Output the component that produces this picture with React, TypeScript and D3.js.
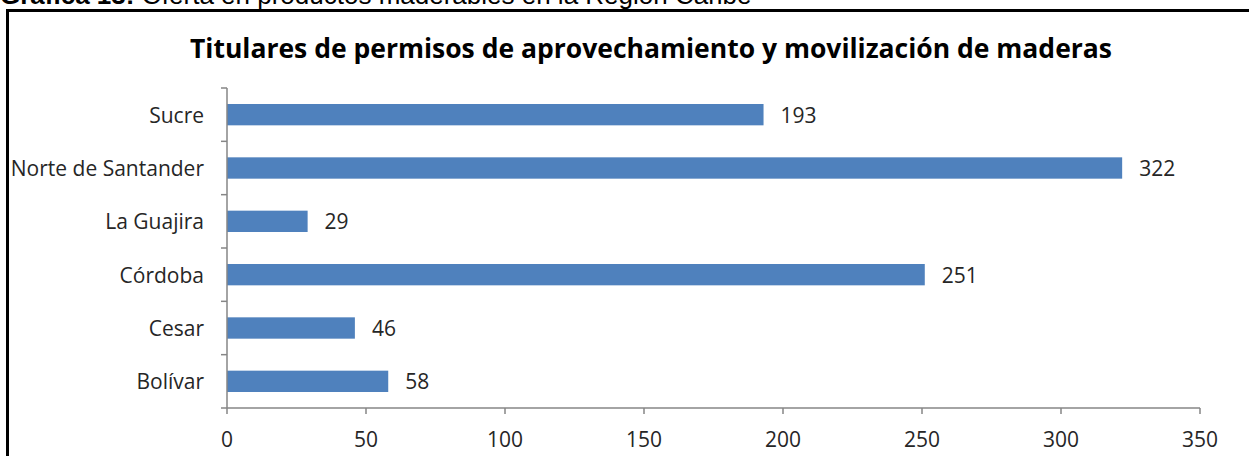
import React from "react";
import * as d3 from "d3";

const categories = ["Sucre", "Norte de Santander", "La Guajira", "Córdoba", "Cesar", "Bolívar"];
const values = [193, 322, 29, 251, 46, 58];
const xTicks = [0, 50, 100, 150, 200, 250, 300, 350];
const titleText = "Titulares de permisos de aprovechamiento y movilización de maderas";
const captionBold = "Gráfica 13:";
const captionRest = " Oferta en productos maderables en la Región Caribe";

const W = 1249;
const H = 456;
const left = 227;
const right = 1200;
const top = 88;
const bottom = 408;

export default function App() {
  const x = d3.scaleLinear().domain([0, 350]).range([left, right]);
  const y = d3
    .scaleBand<string>()
    .domain(categories)
    .range([top, bottom])
    .paddingInner(0.6)
    .paddingOuter(0.3);
  const bounds = d3.range(categories.length + 1).map((i) => top + i * ((bottom - top) / categories.length));
  const axisColor = "#868686";
  const textColor = "#262626";
  const font = "'Open Sans', sans-serif";

  return (
    <div style={{ position: "absolute", left: 0, top: 0 }}>
      <svg width={W} height={H} style={{ display: "block", background: "#fff" }}>
        <rect x={0} y={0} width={W} height={H} fill="#fff" />
        <text x={0} y={4} fontFamily="'Liberation Sans', Arial, sans-serif" fontSize={26} fill="#000">
          <tspan fontWeight="bold">{captionBold}</tspan>
          <tspan>{captionRest}</tspan>
        </text>
        <rect x={7.5} y={10.5} width={W + 10} height={H + 10} fill="none" stroke="#000" strokeWidth={3} />
        <text
          x={651}
          y={58}
          textAnchor="middle"
          fontFamily={font}
          fontWeight="bold"
          fontSize={26.5}
          fill="#000"
        >
          {titleText}
        </text>
        {categories.map((c, i) => (
          <rect
            key={c}
            x={x(0)}
            y={y(c)}
            width={x(values[i]) - x(0)}
            height={y.bandwidth()}
            fill="#4F81BD"
          />
        ))}
        {categories.map((c, i) => (
          <text
            key={c + "v"}
            x={x(values[i]) + 17}
            y={(y(c) as number) + y.bandwidth() / 2 + 8}
            fontFamily={font}
            fontSize={21}
            fill={textColor}
          >
            {values[i]}
          </text>
        ))}
        {categories.map((c) => (
          <text
            key={c + "l"}
            x={204}
            y={(y(c) as number) + y.bandwidth() / 2 + 8}
            textAnchor="end"
            fontFamily={font}
            fontSize={21}
            fill={textColor}
          >
            {c}
          </text>
        ))}
        <line x1={left} x2={left} y1={top} y2={bottom} stroke={axisColor} strokeWidth={1.5} />
        {bounds.map((b, i) => (
          <line key={"yt" + i} x1={left - 6} x2={left} y1={b} y2={b} stroke={axisColor} strokeWidth={1.5} />
        ))}
        <line x1={left} x2={right} y1={bottom} y2={bottom} stroke={axisColor} strokeWidth={1.5} />
        {xTicks.map((t) => (
          <g key={"xt" + t}>
            <line x1={x(t)} x2={x(t)} y1={bottom} y2={bottom + 6} stroke={axisColor} strokeWidth={1.5} />
            <text
              x={x(t)}
              y={447}
              textAnchor="middle"
              fontFamily={font}
              fontSize={21}
              fill={textColor}
            >
              {t}
            </text>
          </g>
        ))}
      </svg>
    </div>
  );
}
